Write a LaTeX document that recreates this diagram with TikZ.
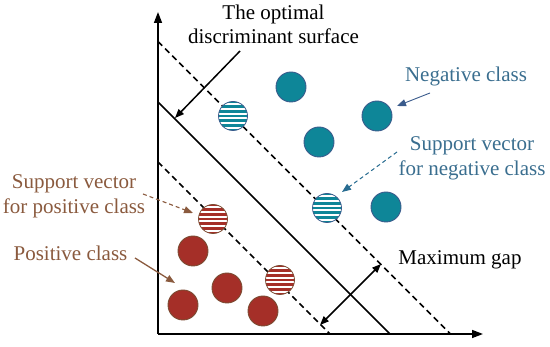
\documentclass[tikz,border=0pt]{standalone}
\usepackage{fontspec}
\setmainfont{Liberation Serif}
\usetikzlibrary{arrows.meta}
\definecolor{negfill}{HTML}{0E8698}
\definecolor{negline}{HTML}{3A5B8C}
\definecolor{negtext}{HTML}{3A6E8F}
\definecolor{posfill}{HTML}{A52F28}
\definecolor{posline}{HTML}{7B4B32}
\definecolor{postext}{HTML}{8A5A3E}
\begin{document}
\begin{tikzpicture}[x=1pt,y=-1pt,
  lbl/.style={inner sep=0pt, font=\fontsize{21}{24.5}\selectfont, align=center},
  axis/.style={line width=1.5pt, -{Triangle[length=11pt,width=8pt]}},
  bound/.style={line width=1.5pt},
  tip/.style={-{Triangle[length=9pt,width=7pt]}},
  negdot/.style={circle, minimum size=30pt, inner sep=0pt, fill=negfill, draw=negline, line width=0.9pt},
  posdot/.style={circle, minimum size=30pt, inner sep=0pt, fill=posfill, draw=posline, line width=0.9pt},
  negsv/.style={circle, minimum size=29pt, inner sep=0pt, fill=white, draw=negline, line width=0.8pt,
    path picture={\foreach \k in {-3,...,3}
      \draw[negfill, line width=2.8pt] ([yshift=\k*4.8pt]path picture bounding box.west) -- ([yshift=\k*4.8pt]path picture bounding box.east);}},
  possv/.style={circle, minimum size=29pt, inner sep=0pt, fill=white, draw=posline, line width=0.8pt,
    path picture={\foreach \k in {-3,...,3}
      \draw[posfill, line width=2.8pt] ([yshift=\k*4.8pt]path picture bounding box.west) -- ([yshift=\k*4.8pt]path picture bounding box.east);}}
]
\useasboundingbox (0,0) rectangle (550,347);

% axes
\coordinate (O) at (158,334);
\coordinate (ytop) at (158,12);
\coordinate (xend) at (483,334);
\draw[axis] (O) -- (ytop);
\draw[axis] (O) -- (xend);

% separating lines
\coordinate (s1) at (158,102);
\coordinate (s2) at (390,334);
\coordinate (u1) at (158,41.5);
\coordinate (u2) at (450.5,334);
\coordinate (l1) at (158,162);
\coordinate (l2) at (330,334);
\draw[bound] (s1) -- (s2);
\draw[bound, dash pattern=on 6pt off 4pt] (u1) -- (u2);
\draw[bound, dash pattern=on 6pt off 4pt] (l1) -- (l2);

% negative class
\node[negdot] (n1) at (291,87) {};
\node[negdot] (n2) at (377,116) {};
\node[negdot] (n3) at (319,142) {};
\node[negdot] (n4) at (386,207) {};
\node[negsv] (nsv1) at (233,116) {};
\node[negsv] (nsv2) at (327,208) {};

% positive class
\node[posdot] (p1) at (193,251) {};
\node[posdot] (p2) at (183,305) {};
\node[posdot] (p3) at (227,288) {};
\node[posdot] (p4) at (263,311) {};
\node[possv] (psv1) at (213,219) {};
\node[possv] (psv2) at (280,280) {};

% labels
\node[lbl, anchor=north] (opt) at (273.5,4.5) {The optimal\\discriminant surface};
\node[lbl, anchor=base, text=negtext] (neg) at (466,82) {Negative class};
\node[lbl, anchor=north, text=negtext] (negsvl) at (472,136.5) {Support vector\\for negative class};
\node[lbl, anchor=north, text=postext] (possvl) at (74,174.5) {Support vector\\for positive class};
\node[lbl, anchor=base, text=postext] (pos) at (70.5,261) {Positive class};
\node[lbl, anchor=base] (gap) at (460,265) {Maximum gap};

% arrows
\coordinate (a1s) at (240,51);
\coordinate (a1e) at (175,118);
\draw[line width=1.5pt, tip] (a1s) -- (a1e);

\coordinate (a2s) at (430,93);
\coordinate (a2e) at (397,106);
\draw[negline, line width=0.9pt, tip] (a2s) -- (a2e);

\coordinate (a3s) at (397,152);
\coordinate (a3e) at (342,192);
\draw[negline!60!negfill, line width=1pt, dash pattern=on 4pt off 3pt, tip] (a3s) -- (a3e);

\coordinate (a4s) at (143,194);
\coordinate (a4e) at (193,213);
\draw[postext, line width=1.1pt, dash pattern=on 4pt off 3pt, tip] (a4s) -- (a4e);

\coordinate (a5s) at (135,258);
\coordinate (a5e) at (175,283);
\draw[postext, line width=1.3pt, tip] (a5s) -- (a5e);

\coordinate (g1) at (320,325);
\coordinate (g2) at (381,264);
\draw[line width=1.5pt, {Triangle[length=9pt,width=7pt]}-{Triangle[length=9pt,width=7pt]}] (g1) -- (g2);
\end{tikzpicture}
\end{document}
